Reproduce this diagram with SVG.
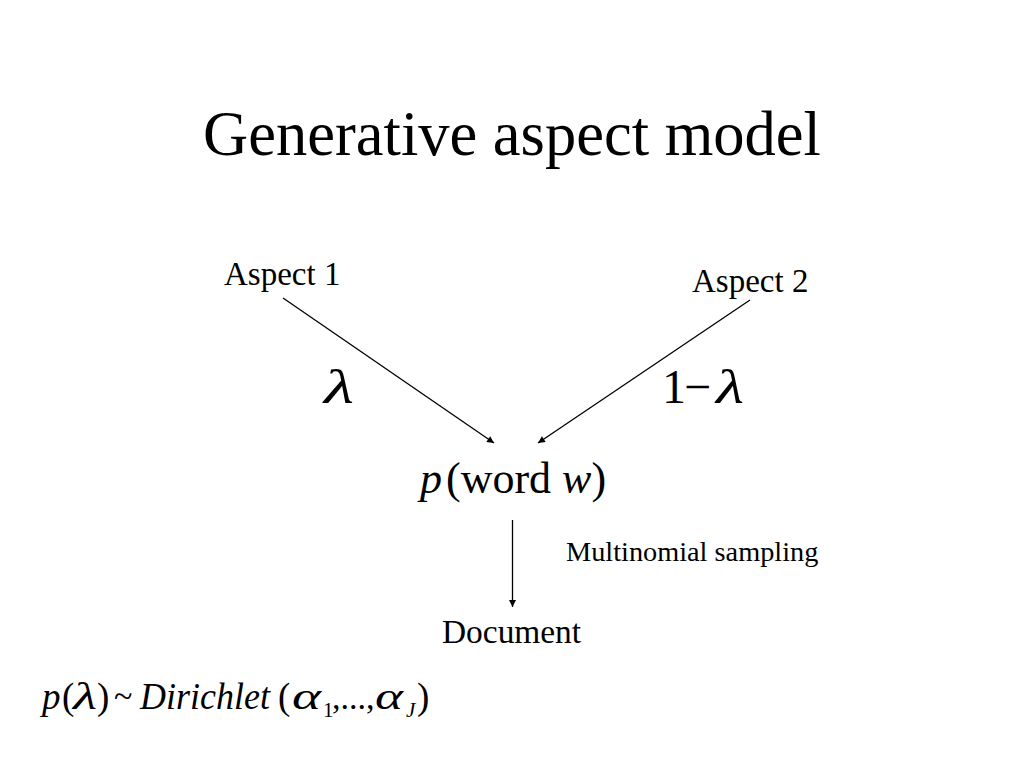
<svg xmlns="http://www.w3.org/2000/svg" width="1024" height="768" viewBox="0 0 1024 768">
<defs>
<marker id="ah" viewBox="0 0 10 10" refX="10" refY="5" markerWidth="9" markerHeight="7" markerUnits="userSpaceOnUse" orient="auto">
<path d="M0,0 L10,5 L0,10 z" fill="#000"/>
</marker>
<style>
text{font-family:"Liberation Serif","Times New Roman",serif;fill:#000}
.c{stroke:#000;stroke-width:1.3;fill:none;marker-end:url(#ah)}
.i{font-style:italic}
.f{font-size:37px}
.s{font-size:21px}
</style>
</defs>
<rect width="1024" height="768" fill="#fff"/>
<text id="title" x="512" y="155" font-size="62.5" text-anchor="middle">Generative aspect model</text>
<g id="connectors">
<line class="c" x1="283" y1="298" x2="494" y2="443"/>
<line class="c" x1="750" y1="300" x2="538" y2="443"/>
<line class="c" x1="512.5" y1="520" x2="512.5" y2="607"/>
</g>
<g id="aspect1"><text x="224" y="285" font-size="33">Aspect 1</text></g>
<g id="aspect2"><text x="692" y="292" font-size="33">Aspect 2</text></g>
<g id="lambda"><text class="i" x="324" y="403" font-size="48" textLength="30" lengthAdjust="spacingAndGlyphs">λ</text></g>
<g id="oneminus">
<text x="662" y="403" font-size="48">1</text>
<text x="684" y="403" font-size="48">−</text>
<text class="i" x="716" y="403" font-size="48" textLength="28" lengthAdjust="spacingAndGlyphs">λ</text>
</g>
<g id="pword"><text x="420" y="493" font-size="44"><tspan class="i">p</tspan><tspan dx="4">(word </tspan><tspan class="i">w</tspan>)</text></g>
<g id="sampling"><text x="566" y="561" font-size="28.3">Multinomial sampling</text></g>
<g id="document"><text x="442" y="643" font-size="33.4">Document</text></g>
<g id="formula">
<text class="f i" x="42" y="709">p</text>
<text class="f" x="62" y="709">(</text>
<text class="f i" x="73" y="709" textLength="24" lengthAdjust="spacingAndGlyphs">λ</text>
<text class="f" x="97" y="709">)</text>
<text x="114" y="707" font-size="34">~</text>
<text class="f i" x="140" y="709" textLength="130" lengthAdjust="spacingAndGlyphs">Dirichlet</text>
<text class="f" x="278" y="709">(</text>
<text class="f i" x="292" y="709" textLength="29" lengthAdjust="spacingAndGlyphs">α</text>
<text class="s" x="323" y="717">1</text>
<text x="332" y="709" font-size="34">,...,</text>
<text class="f i" x="375" y="709" textLength="28" lengthAdjust="spacingAndGlyphs">α</text>
<text class="s i" x="406" y="717">J</text>
<text class="f" x="417" y="709">)</text>
</g>
</svg>
